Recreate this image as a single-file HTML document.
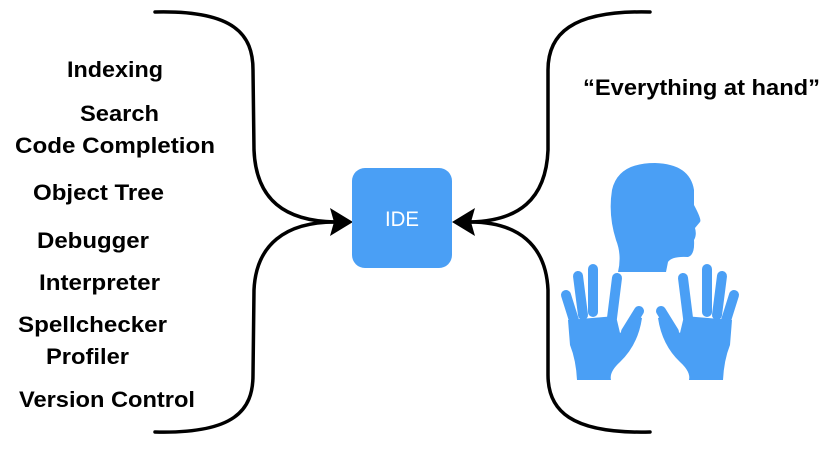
<!DOCTYPE html>
<html><head><style>
html,body{margin:0;padding:0;background:#fff;width:831px;height:463px;overflow:hidden}
text{font-family:"Liberation Sans",Arial,sans-serif;font-weight:bold;font-size:22px;fill:#000}
</style></head><body>
<svg width="831" height="463" viewBox="0 0 831 463" xmlns="http://www.w3.org/2000/svg">
<g fill="none" stroke="#000" stroke-width="3.5" stroke-linecap="round">
<path d="M155,12 C235,10 253,35 253,70 L254,150 C256,200 285,221 335,222"/>
<path d="M155,432 C235,434 253,410 253,375 L254,290 C256,245 285,222 335,222"/>
<path d="M650,12 C570,10 548,35 548,70 L548,150 C546,200 518,221 470,222"/>
<path d="M650,432 C570,434 548,410 548,375 L548,290 C546,245 518,222 470,222"/>
</g>
<polygon points="353,222 330,208 334,222 330,236" fill="#000"/>
<polygon points="452,222 475,208 471,222 475,236" fill="#000"/>
<rect x="352" y="168" width="100" height="100" rx="13" fill="#4a9ff5"/>
<text x="402" y="226" text-anchor="middle" textLength="34" lengthAdjust="spacingAndGlyphs" style="fill:#fff;font-weight:normal;font-size:21px">IDE</text>
<g>
<text x="67" y="77" textLength="96" lengthAdjust="spacingAndGlyphs">Indexing</text>
<text x="80" y="121" textLength="79" lengthAdjust="spacingAndGlyphs">Search</text>
<text x="15" y="153" textLength="200" lengthAdjust="spacingAndGlyphs">Code Completion</text>
<text x="33" y="200" textLength="131" lengthAdjust="spacingAndGlyphs">Object Tree</text>
<text x="37" y="248" textLength="112" lengthAdjust="spacingAndGlyphs">Debugger</text>
<text x="39" y="290" textLength="121" lengthAdjust="spacingAndGlyphs">Interpreter</text>
<text x="18" y="332" textLength="149" lengthAdjust="spacingAndGlyphs">Spellchecker</text>
<text x="46" y="364" textLength="83" lengthAdjust="spacingAndGlyphs">Profiler</text>
<text x="19" y="407" textLength="176" lengthAdjust="spacingAndGlyphs">Version Control</text>
<text x="583" y="95" textLength="237" lengthAdjust="spacingAndGlyphs">“Everything at hand”</text>
</g>
<path fill="#4a9ff5" d="M618,272 Q622,255 616,240 Q608,215 612,190 Q618,163 655,163 Q690,164 694,190 L694,205 Q702,220 700,222 L695,228 Q697,235 694,240 Q695,255 688,257 Q672,256 668,262 L666,272 Z"/>
<g id="hand">
<g stroke="#4a9ff5" stroke-width="10" stroke-linecap="round">
<line x1="566" y1="295" x2="577" y2="330"/>
<line x1="578" y1="276" x2="583" y2="315"/>
<line x1="593" y1="269" x2="593" y2="312"/>
<line x1="617" y1="278" x2="612" y2="318"/>
<line x1="639" y1="311" x2="626" y2="332"/>
</g>
<path fill="#4a9ff5" d="M568,320 L616,316 L620,333 Q630,326 636,316 L642,318 Q638,345 620,362 Q609,372 611,380 L577,380 Q576,360 570,345 Z"/>
</g>
<use href="#hand" transform="translate(1300,0) scale(-1,1)"/>
</svg>
</body></html>
